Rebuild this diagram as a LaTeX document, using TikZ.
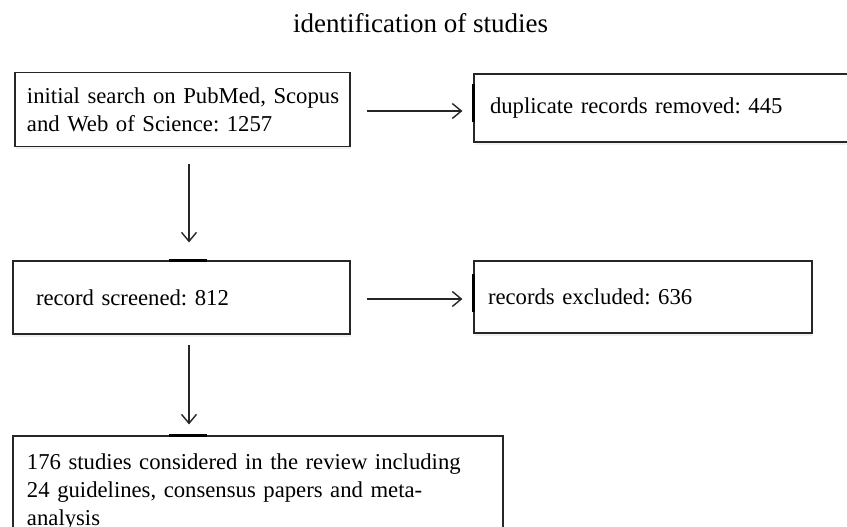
\documentclass[tikz,border=0pt]{standalone}
\usepackage{fontspec}
\setmainfont{Liberation Serif}
\usetikzlibrary{arrows.meta,shadows}
\frenchspacing
\begin{document}
\begin{tikzpicture}[x=1pt,y=-1pt,
  box/.style={draw=black!85,line width=1.2pt,fill=white,rectangle,align=left,
    font=\fontsize{22.7}{27.8}\selectfont\frenchspacing,inner ysep=0pt,
    drop shadow={opacity=0.12,shadow xshift=1pt,shadow yshift=-2.5pt}},
  arr/.style={draw=black!85,line width=1.4pt,-{Straight Barb[length=9pt,width=15pt,line width=1.4pt]}},
  glue/.style={draw=black,line width=2.6pt},
  title/.style={font=\fontsize{27}{32}\selectfont,anchor=base}]
\useasboundingbox (0,0) rectangle (847,527);
\clip (0,0) rectangle (847,527);
\node[title] (t) at (420.5,33) {identification of studies};
\node[box,minimum width=335pt,minimum height=74pt,text width=311pt,inner xsep=12pt] (b1) at (182.5,109.5)
  {\mbox{initial search on PubMed, Scopus}\\\mbox{and Web of Science: 1257}};
\node[box,minimum width=406pt,minimum height=68pt,text width=374pt,inner xsep=16pt] (b2) at (677,108)
  {\mbox{duplicate records removed: 445}};
\node[box,minimum width=337pt,minimum height=73pt,text width=291pt,inner xsep=23pt] (b3) at (181.5,297.5)
  {\mbox{record screened: 812}};
\node[box,minimum width=338pt,minimum height=72pt,text width=310pt,inner xsep=14pt] (b4) at (643,297)
  {\mbox{records excluded: 636}};
\node[box,minimum width=490pt,minimum height=112pt,text width=462pt,inner xsep=14pt] (b5) at (258,492)
  {\mbox{176 studies considered in the review including}\\\mbox{24 guidelines, consensus papers and meta-}\\\mbox{analysis}};
% glue marks
\draw[glue] ([xshift=-12.5pt]b3.north) -- ([xshift=25.5pt]b3.north);
\draw[glue] ([xshift=-89pt]b5.north) -- ([xshift=-51pt]b5.north);
\draw[glue] ([yshift=-14pt]b2.west) -- ([yshift=24pt]b2.west);
\draw[glue] ([yshift=-15pt]b4.west) -- ([yshift=23pt]b4.west);
% connectors
\coordinate (a1s) at ([xshift=16pt,yshift=-1.5pt]b1.east);
\draw[arr] (a1s) -- ([xshift=-11pt]a1s -| b2.west);
\coordinate (a2s) at ([xshift=16pt,yshift=-1.5pt]b3.east);
\draw[arr] (a2s) -- ([xshift=-11pt]a2s -| b4.west);
\coordinate (v1s) at ([xshift=6.5pt,yshift=-17pt]b1.south);
\draw[arr] (v1s) -- ([yshift=18pt]v1s |- b3.north);
\coordinate (v2s) at ([xshift=7.5pt,yshift=-10pt]b3.south);
\draw[arr] (v2s) -- ([yshift=11pt]v2s |- b5.north);
\end{tikzpicture}
\end{document}
